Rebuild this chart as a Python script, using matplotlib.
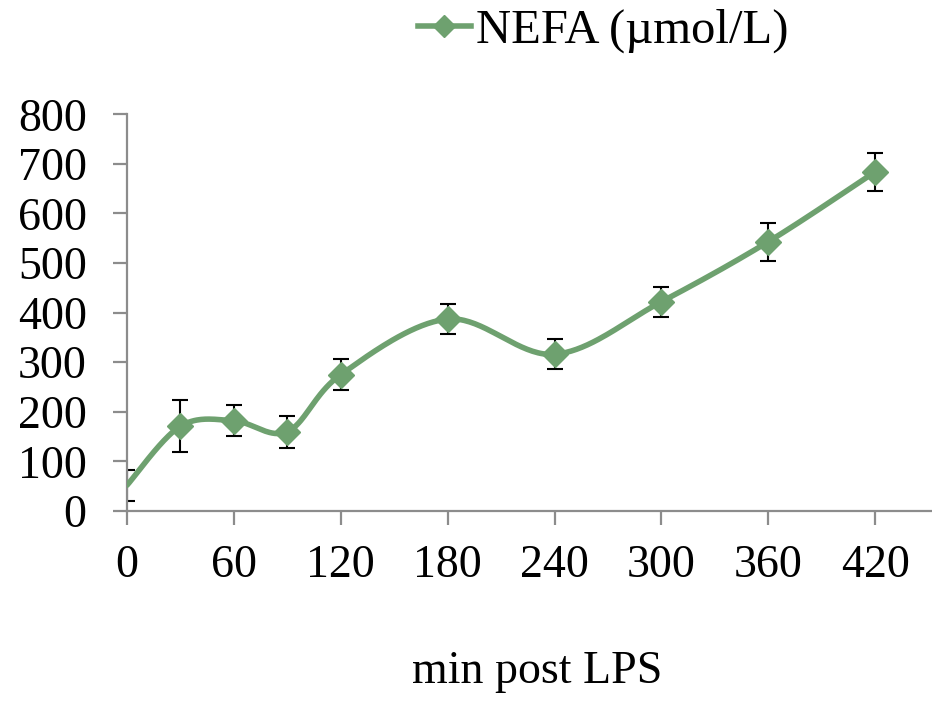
import numpy as np
import matplotlib
matplotlib.use("Agg")
import matplotlib.pyplot as plt
from matplotlib.lines import Line2D

minutes = [0, 30, 60, 90, 120, 180, 240, 300, 360, 420]
nefa = [52, 171, 182, 160, 275, 387, 316, 422, 543, 684]
nefa_err = [31, 52, 31, 32, 31, 31, 30, 30, 38, 38]
x_ticks = [0, 60, 120, 180, 240, 300, 360, 420]
y_ticks = [0, 100, 200, 300, 400, 500, 600, 700, 800]

GREEN = "#6ea16f"
GRAY = "#8c8c8c"
FONT = "Liberation Serif"
FS = 33

plt.rcParams['font.family'] = [FONT, 'DejaVu Serif']


def excel_smooth(xs, ys, n=40):
    xs = np.asarray(xs, float)
    ys = np.asarray(ys, float)
    P = np.column_stack([xs, ys])
    ext = np.vstack([P[0], P, P[-1]])
    out = []
    for i in range(len(P) - 1):
        p0, p1, p2, p3 = ext[i], ext[i + 1], ext[i + 2], ext[i + 3]
        c1 = p1 + (p2 - p0) / 6.0
        c2 = p2 - (p3 - p1) / 6.0
        t = np.linspace(0, 1, n)[:, None]
        seg = ((1 - t) ** 3) * p1 + 3 * ((1 - t) ** 2) * t * c1 + 3 * (1 - t) * t ** 2 * c2 + t ** 3 * p2
        out.append(seg if i == 0 else seg[1:])
    pts = np.vstack(out)
    return pts[:, 0], pts[:, 1]


fig = plt.figure(figsize=(9.32, 7.02), dpi=100)
left = 127 / 932
bottom = (702 - 511) / 702
width = (982 - 127) / 932
height = (511 - 114.3) / 702
ax = fig.add_axes([left, bottom, width, height])

sx, sy = 855 / 480, 396.7 / 800
xs_s, ys_s = excel_smooth(np.array(minutes) * sx, np.array(nefa) * sy)
ax.plot(xs_s / sx, ys_s / sy, color=GREEN, lw=4.0, solid_capstyle='round', zorder=3)

ax.errorbar(minutes, nefa, yerr=nefa_err, fmt='none', ecolor='black',
            elinewidth=1.5, capsize=6, capthick=1.5, zorder=2)
ax.plot(minutes[1:], nefa[1:], linestyle='none', marker='D', markersize=13,
        color=GREEN, zorder=4)

ax.set_xlim(0, 480)
ax.set_ylim(0, 800)
ax.set_xticks(x_ticks)
ax.set_yticks(y_ticks)
ax.set_xticklabels([str(v) for v in x_ticks], fontsize=FS, family=FONT)
ax.set_yticklabels([str(v) for v in y_ticks], fontsize=FS, family=FONT)

for s in ['top', 'right']:
    ax.spines[s].set_visible(False)
for s in ['left', 'bottom']:
    ax.spines[s].set_color(GRAY)
    ax.spines[s].set_linewidth(1.6)
ax.tick_params(axis='both', direction='out', length=10, width=1.6, color=GRAY,
               labelcolor='black')
ax.tick_params(axis='x', pad=14)
ax.tick_params(axis='y', pad=19)

fig.text(537 / 932, 1 - 683 / 702, "min post LPS", fontsize=FS, family=FONT,
         ha='center', va='baseline')

handle = Line2D([0], [0], color=GREEN, lw=4.0, marker='D', markersize=11)
fig.legend([handle], ["NEFA (µmol/L)"], loc='center left',
           bbox_to_anchor=(418 / 932, 1 - 31 / 702),
           frameon=False, prop={'family': FONT, 'size': 35}, handlelength=1.08,
           handletextpad=0.12, borderaxespad=0, borderpad=0)

fig.savefig("out.png", dpi=100)
